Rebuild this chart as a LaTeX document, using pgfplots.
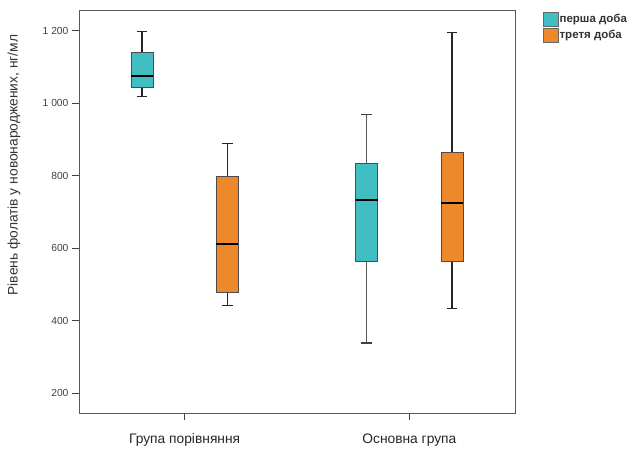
\documentclass[border=0pt]{standalone}
\usepackage{fontspec}
\setmainfont{Liberation Sans}
\usepackage{pgfplots}
\pgfplotsset{compat=1.18}
\definecolor{cyanc}{HTML}{40BEC1}
\definecolor{orangec}{HTML}{EE892B}
\begin{document}
\begin{tikzpicture}
\begin{axis}[
  at={(0,0)}, anchor=south west,
  scale only axis, width=436pt, height=403pt,
  xmin=0.53, xmax=2.47, ymin=145, ymax=1258,
  xtick={1,2}, xticklabels={Група порівняння, Основна група},
  ytick={200,400,600,800,1000,1200},
  tick align=outside, tick pos=left,
  major tick length=7pt,
  major tick style={line width=1pt, black!75},
  /pgf/number format/assume math mode=true,
  /pgf/number format/1000 sep={\ },
  ticklabel style={font=\fontsize{10.3}{11}\selectfont, text=black!75},
  xticklabel style={font=\fontsize{13.8}{15}\selectfont, text=black!85, yshift=-10pt},
  ylabel={Рівень фолатів у новонароджених, нг/мл},
  ylabel style={font=\fontsize{13.8}{15}\selectfont, text=black!80,
    at={(axis description cs:-0.149,0.615)}, anchor=center},
  axis line style={black!65, line width=0.9pt},
  legend style={at={(1.064,0.995)}, anchor=north west, draw=none, fill=none,
    font=\bfseries\fontsize{11.5}{12}\selectfont, text=black!80,
    row sep=1.5pt, inner sep=0pt,
    nodes={inner sep=1pt}},
  legend cell align=left,
  legend image code/.code={\draw[#1, line width=0.5pt] (0pt,-7pt) rectangle (15pt,7pt);},
]
\addlegendimage{fill=cyanc, draw=black!60}
\addlegendentry{перша доба}
\addlegendimage{fill=orangec, draw=black!60}
\addlegendentry{третя доба}
% ---- Група порівняння, перша доба (x=0.81): 1019,1045,1077,1141,1198
\addplot[black!85, line width=1.4pt, forget plot] coordinates {(0.81,1141) (0.81,1198)};
\addplot[black!85, line width=1.4pt, forget plot] coordinates {(0.81,1019) (0.81,1045)};
\addplot[black!85, line width=1.5pt, forget plot] coordinates {(0.786,1198) (0.834,1198)};
\addplot[black!85, line width=1.5pt, forget plot] coordinates {(0.786,1019) (0.834,1019)};
\addplot[fill=cyanc, draw=black!70, line width=0.8pt, forget plot] coordinates {(0.761,1045) (0.859,1045) (0.859,1141) (0.761,1141)} -- cycle;
\addplot[black, line width=2pt, forget plot] coordinates {(0.761,1077) (0.859,1077)};
% ---- Група порівняння, третя доба (x=1.19): 442,479,612,798,889
\addplot[black!85, line width=1.4pt, forget plot] coordinates {(1.19,798) (1.19,889)};
\addplot[black!85, line width=1.4pt, forget plot] coordinates {(1.19,442) (1.19,479)};
\addplot[black!85, line width=1.5pt, forget plot] coordinates {(1.166,889) (1.214,889)};
\addplot[black!85, line width=1.5pt, forget plot] coordinates {(1.166,442) (1.214,442)};
\addplot[fill=orangec, draw=black!70, line width=0.8pt, forget plot] coordinates {(1.141,479) (1.239,479) (1.239,798) (1.141,798)} -- cycle;
\addplot[black, line width=2pt, forget plot] coordinates {(1.141,612) (1.239,612)};
% ---- Основна група, перша доба (x=1.81): 338,563,733,833,970
\addplot[black!65, line width=1pt, forget plot] coordinates {(1.81,833) (1.81,970)};
\addplot[black!65, line width=1pt, forget plot] coordinates {(1.81,338) (1.81,563)};
\addplot[black!75, line width=1.5pt, forget plot] coordinates {(1.786,970) (1.834,970)};
\addplot[black!75, line width=1.5pt, forget plot] coordinates {(1.786,338) (1.834,338)};
\addplot[fill=cyanc, draw=black!70, line width=0.8pt, forget plot] coordinates {(1.761,563) (1.859,563) (1.859,833) (1.761,833)} -- cycle;
\addplot[black, line width=2pt, forget plot] coordinates {(1.761,733) (1.859,733)};
% ---- Основна група, третя доба (x=2.19): 434,564,724,865,1196
\addplot[black!85, line width=1.4pt, forget plot] coordinates {(2.19,865) (2.19,1196)};
\addplot[black!85, line width=1.4pt, forget plot] coordinates {(2.19,434) (2.19,564)};
\addplot[black!85, line width=1.5pt, forget plot] coordinates {(2.166,1196) (2.214,1196)};
\addplot[black!85, line width=1.5pt, forget plot] coordinates {(2.166,434) (2.214,434)};
\addplot[fill=orangec, draw=black!70, line width=0.8pt, forget plot] coordinates {(2.141,564) (2.239,564) (2.239,865) (2.141,865)} -- cycle;
\addplot[black, line width=2pt, forget plot] coordinates {(2.141,724) (2.239,724)};
\end{axis}
\useasboundingbox (-79pt,-33pt) rectangle (556pt,413pt);
\end{tikzpicture}
\end{document}
